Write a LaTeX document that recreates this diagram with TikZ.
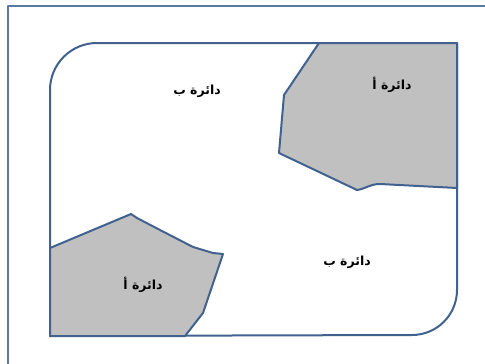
\documentclass[tikz,border=0pt]{standalone}
\usepackage{fontspec}
\TeXXeTstate=1
\newfontfamily\arabicfont[Script=Arabic]{DejaVu Sans Bold}
\definecolor{edge}{HTML}{41618F}
\definecolor{zone}{HTML}{C0C0C0}
\tikzset{lbl/.style={font=\arabicfont\fontsize{12.5}{14}\selectfont}}
\begin{document}
\begin{tikzpicture}[x=1pt,y=-1pt,line join=round]
\useasboundingbox (0,0) rectangle (485,364);
\draw[edge!85,line width=1.5] (8,380) -- (8,6) -- (500,6);
\draw[edge,line width=2] (457,43) -- (457,290) arc (0:90:45) -- (50,336) -- (50,90) arc (180:270:47) -- cycle;
\draw[edge,line width=2,fill=zone] (319,43) -- (457,43) -- (457,188) -- (380,184) .. controls (370,184) and (365,189) .. (357,190) -- (279,153) -- (284,95) -- cycle;
\draw[edge,line width=2,fill=zone] (50,248) -- (131,214) -- (137,218) -- (160,230) -- (193,247) -- (213,253) -- (223,254) -- (203,313) -- (185,336) -- (50,336) -- cycle;
\draw(197,91) node[lbl] (b1) {\beginR دائرة ب\endR};
\draw(392,85) node[lbl] (a1) {\beginR دائرة أ\endR};
\draw(143,285) node[lbl] (a2) {\beginR دائرة أ\endR};
\draw(347,262) node[lbl] (b2) {\beginR دائرة ب\endR};
\end{tikzpicture}
\end{document}
